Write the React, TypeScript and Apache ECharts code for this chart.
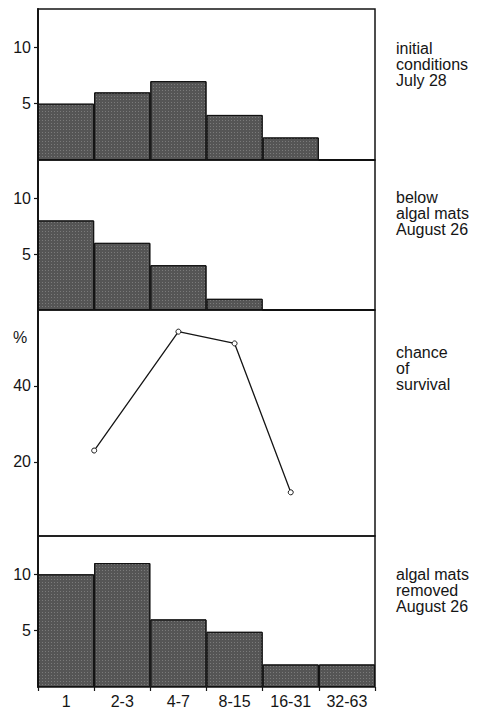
import React, { useEffect, useRef } from "react";
import * as echarts from "echarts";

const categories = ["1", "2-3", "4-7", "8-15", "16-31", "32-63"];
const initialJuly28 = [5, 6, 7, 4, 2, 0];
const belowMatsAug26 = [8, 6, 4, 1, 0, 0];
const survivalX = [1, 2.5, 3.5, 4.5];
const survivalPct = [23, 54.3, 51.2, 12];
const removedAug26 = [10, 11, 6, 4.9, 2, 2];
const countTicks = [5, 10];
const pctTicks = [20, 40];
const panelLabels = [
  "initial\nconditions\nJuly 28",
  "below\nalgal mats\nAugust 26",
  "chance\nof\nsurvival",
  "algal mats\nremoved\nAugust 26",
];

const FONT = "'Liberation Sans', Arial, Helvetica, sans-serif";
const INK = "#151515";
const FILL = "#555555";

export default function App() {
  const ref = useRef<HTMLDivElement>(null);
  useEffect(() => {
    document.body.style.margin = "0";
    const chart = echarts.init(ref.current!, null, { renderer: "svg" });
    const left = 38;
    const width = 337;
    const panels = [
      { top: 9, height: 151 },
      { top: 160, height: 150 },
      { top: 310, height: 226 },
      { top: 536, height: 151 },
    ];
    const grid = panels.map((p) => ({
      left,
      width,
      top: p.top,
      height: p.height,
      show: true,
      borderColor: INK,
      borderWidth: 1.5,
      backgroundColor: "transparent",
      containLabel: false,
    }));
    const catAxis = (i: number, showLabels: boolean) => ({
      type: "category",
      gridIndex: i,
      data: categories,
      boundaryGap: true,
      axisLine: { show: false },
      axisTick: {
        show: showLabels,
        length: 4,
        lineStyle: { color: INK, width: 1.2 },
      },
      axisLabel: {
        show: showLabels,
        fontSize: 16,
        fontFamily: FONT,
        color: INK,
        margin: 6,
      },
      splitLine: { show: false },
    });
    const countAxis = (i: number) => ({
      type: "value",
      gridIndex: i,
      min: 0,
      max: 13.4,
      axisLine: { show: true, lineStyle: { color: INK, width: 2 } },
      axisTick: {
        show: true,
        customValues: countTicks,
        length: 4,
        lineStyle: { color: INK, width: 1.2 },
      },
      axisLabel: {
        customValues: countTicks,
        fontSize: 16,
        fontFamily: FONT,
        color: INK,
        margin: 7,
      },
      splitLine: { show: false },
    });
    const barSeries = (i: number, data: number[]) => ({
      type: "bar",
      xAxisIndex: i,
      yAxisIndex: i,
      data,
      barCategoryGap: "0%",
      itemStyle: {
        color: FILL,
        borderColor: "#111",
        borderWidth: 1,
        decal: {
          symbol: "rect",
          symbolSize: 1,
          dashArrayX: [1, 2],
          dashArrayY: [1, 2],
          color: "rgba(255,255,255,0.22)",
          rotation: 0,
        },
      },
      silent: true,
    });
    chart.setOption({
      animation: false,
      textStyle: { fontFamily: FONT },
      grid,
      xAxis: [
        catAxis(0, false),
        catAxis(1, false),
        {
          type: "value",
          gridIndex: 2,
          min: 0,
          max: 6,
          show: false,
        },
        catAxis(3, true),
      ],
      yAxis: [
        countAxis(0),
        countAxis(1),
        {
          type: "value",
          gridIndex: 2,
          min: 0.5,
          max: 60,
          axisLine: { show: true, lineStyle: { color: INK, width: 2 } },
          axisTick: {
            show: true,
            customValues: pctTicks,
            length: 4,
            lineStyle: { color: INK, width: 1.2 },
          },
          axisLabel: {
            customValues: pctTicks,
            fontSize: 16,
            fontFamily: FONT,
            color: INK,
            margin: 7,
          },
          splitLine: { show: false },
        },
        countAxis(3),
      ],
      series: [
        barSeries(0, initialJuly28),
        barSeries(1, belowMatsAug26),
        {
          type: "line",
          xAxisIndex: 2,
          yAxisIndex: 2,
          data: survivalX.map((x, i) => [x, survivalPct[i]]),
          symbol: "circle",
          symbolSize: 5,
          itemStyle: { color: "#fff", borderColor: INK, borderWidth: 1 },
          lineStyle: { color: INK, width: 1.3 },
          silent: true,
        },
        barSeries(3, removedAug26),
      ],
      graphic: [
        {
          type: "text",
          left: 13,
          top: 329,
          style: { text: "%", fontSize: 16, fontFamily: FONT, fill: INK },
        },
        ...panelLabels.map((t, i) => ({
          type: "text",
          left: 396,
          top: [40, 189, 344, 566][i],
          style: {
            text: t,
            fontSize: 16,
            lineHeight: 16,
            fontFamily: FONT,
            fill: INK,
          },
        })),
      ],
    });
    return () => chart.dispose();
  }, []);
  return <div ref={ref} style={{ width: 499, height: 710 }} />;
}
